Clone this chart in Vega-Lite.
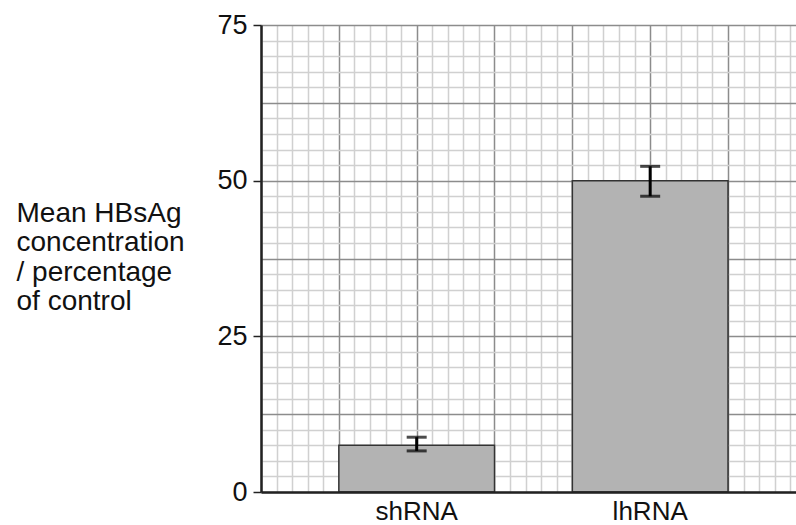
{
  "$schema": "https://vega.github.io/schema/vega-lite/v6.json",
  "width": 535,
  "height": 467,
  "autosize": {"type": "none"},
  "padding": {"left": 261, "top": 25, "right": 0, "bottom": 33},
  "background": "white",
  "config": {"view": {"stroke": null}, "font": "Liberation Sans"},
  "data": {"values": [
    {"group": "shRNA", "mean": 7.5, "lower": 6.6, "upper": 8.8},
    {"group": "lhRNA", "mean": 50, "lower": 47.5, "upper": 52.3}
  ]},
  "layer": [
    {
      "mark": {"type": "point", "opacity": 0},
      "encoding": {
        "x": {
          "datum": 0, "type": "quantitative",
          "scale": {"domain": [0, 34.37], "nice": false, "zero": false},
          "axis": {
            "orient": "bottom", "values": [0,1,2,3,4,5,6,7,8,9,10,11,12,13,14,15,16,17,18,19,20,21,22,23,24,25,26,27,28,29,30,31,32,33,34],
            "labels": false, "ticks": false, "domain": false, "title": null,
            "grid": true,
            "gridColor": {"condition": {"test": "datum.value % 5 === 0", "value": "#8c8c8c"}, "value": "#d0d0d0"},
            "gridWidth": 1.5, "gridOpacity": 1
          }
        },
        "y": {
          "field": "mean", "type": "quantitative",
          "scale": {"domain": [0, 75], "nice": false},
          "axis": {
            "orient": "left",
            "values": [0,2.5,5,7.5,10,12.5,15,17.5,20,22.5,25,27.5,30,32.5,35,37.5,40,42.5,45,47.5,50,52.5,55,57.5,60,62.5,65,67.5,70,72.5,75],
            "labelExpr": "datum.value % 25 === 0 ? datum.label : ''",
            "labelFontSize": 27, "labelColor": "#111", "labelPadding": 6,
            "tickColor": "#222",
            "tickOpacity": {"condition": {"test": "datum.value % 25 === 0", "value": 1}, "value": 0},
            "tickSize": 8, "tickWidth": 1.5,
            "domain": true, "domainColor": "#222", "domainWidth": 2.5,
            "grid": true,
            "gridColor": {"condition": {"test": "datum.value % 12.5 === 0", "value": "#8c8c8c"}, "value": "#d0d0d0"},
            "gridWidth": 1.5, "gridOpacity": 1,
            "title": ["Mean HBsAg", "concentration", "/ percentage", "of control"],
            "titleAngle": 0, "titleAlign": "left", "titleBaseline": "alphabetic",
            "titleX": -245, "titleY": 196, "titleFontSize": 28, "titleFontWeight": "normal",
            "titleLineHeight": 29.5, "titleColor": "#111"
          }
        }
      }
    },
    {
      "layer": [
        {
          "mark": {"type": "bar", "color": "#b3b3b3", "stroke": "#333333", "strokeWidth": 1.5},
          "encoding": {
            "x": {
              "field": "group", "type": "nominal", "sort": ["shRNA", "lhRNA"],
              "scale": {"paddingInner": 0.3333, "paddingOuter": 0.3123, "align": 0.5338},
              "axis": {
                "orient": "bottom", "title": null, "labelAngle": 0, "labelFontSize": 26,
                "labelColor": "#111", "labelPadding": 27, "labelBaseline": "alphabetic", "ticks": false,
                "domainColor": "#222", "domainWidth": 2.5, "grid": false, "zindex": 1
              }
            },
            "y": {"field": "mean", "type": "quantitative", "axis": null}
          }
        },
        {
          "mark": {"type": "rule", "color": "#000", "strokeWidth": 3},
          "encoding": {
            "x": {"field": "group", "type": "nominal", "sort": ["shRNA", "lhRNA"]},
            "y": {"field": "lower", "type": "quantitative", "axis": null},
            "y2": {"field": "upper"}
          }
        },
        {
          "mark": {"type": "tick", "color": "#000", "size": 20, "thickness": 3},
          "encoding": {
            "x": {"field": "group", "type": "nominal", "sort": ["shRNA", "lhRNA"]},
            "y": {"field": "lower", "type": "quantitative", "axis": null}
          }
        },
        {
          "mark": {"type": "tick", "color": "#000", "size": 20, "thickness": 3},
          "encoding": {
            "x": {"field": "group", "type": "nominal", "sort": ["shRNA", "lhRNA"]},
            "y": {"field": "upper", "type": "quantitative", "axis": null}
          }
        }
      ]
    }
  ],
  "resolve": {"scale": {"x": "independent"}, "axis": {"x": "independent", "y": "independent"}}
}
